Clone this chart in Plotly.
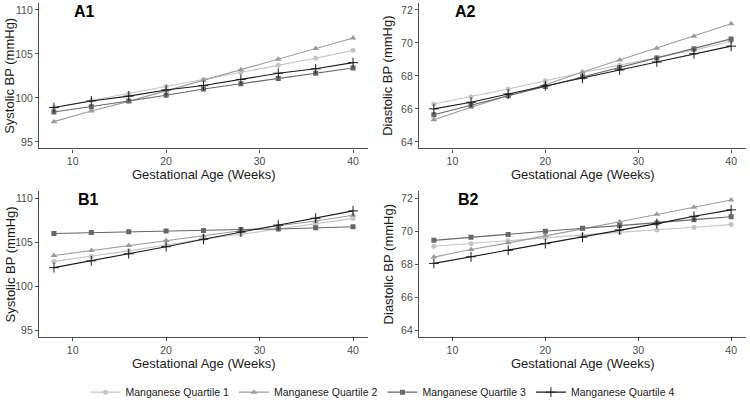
import plotly.graph_objects as go

weeks = [8, 12, 16, 20, 24, 28, 32, 36, 40]
series_names = ["Manganese Quartile 1", "Manganese Quartile 2",
                "Manganese Quartile 3", "Manganese Quartile 4"]

# Panel A1 (Systolic)
a1_q1 = [98.9, 99.7, 100.5, 101.3, 102.1, 102.9, 103.7, 104.5, 105.4]
a1_q2 = [97.3, 98.5, 99.6, 100.8, 102.0, 103.2, 104.4, 105.6, 106.8]
a1_q3 = [98.4, 99.0, 99.65, 100.3, 101.0, 101.6, 102.2, 102.8, 103.4]
a1_q4 = [98.9, 99.65, 100.2, 100.9, 101.4, 102.1, 102.8, 103.3, 104.0]
# Panel A2 (Diastolic)
a2_q1 = [66.3, 66.74, 67.2, 67.7, 68.2, 68.65, 69.1, 69.56, 70.1]
a2_q2 = [65.34, 66.1, 66.8, 67.46, 68.24, 68.96, 69.68, 70.4, 71.16]
a2_q3 = [65.64, 66.24, 66.8, 67.36, 67.94, 68.5, 69.08, 69.64, 70.24]
a2_q4 = [66.0, 66.4, 66.9, 67.4, 67.86, 68.36, 68.84, 69.34, 69.8]
# Panel B1 (Systolic)
b1_q1 = [102.84, 103.4, 104.03, 104.7, 105.37, 105.9, 106.5, 107.05, 107.7]
b1_q2 = [103.5, 104.07, 104.63, 105.2, 105.75, 106.27, 106.87, 107.4, 108.06]
b1_q3 = [106.0, 106.1, 106.2, 106.27, 106.34, 106.45, 106.5, 106.64, 106.75]
b1_q4 = [102.13, 102.9, 103.7, 104.5, 105.34, 106.16, 106.94, 107.72, 108.55]
# Panel B2 (Diastolic)
b2_q1 = [69.09, 69.25, 69.42, 69.6, 69.78, 69.92, 70.08, 70.24, 70.4]
b2_q2 = [68.44, 68.9, 69.3, 69.74, 70.14, 70.57, 71.03, 71.45, 71.88]
b2_q3 = [69.45, 69.64, 69.8, 70.0, 70.18, 70.34, 70.5, 70.7, 70.87]
b2_q4 = [68.06, 68.46, 68.85, 69.25, 69.64, 70.08, 70.46, 70.9, 71.29]

panel_labels = ["A1", "A2", "B1", "B2"]
y_titles = ["Systolic BP (mmHg)", "Diastolic BP (mmHg)",
            "Systolic BP (mmHg)", "Diastolic BP (mmHg)"]
x_title = "Gestational Age (Weeks)"
x_ticks = [10, 20, 30, 40]
sys_ticks = [95, 100, 105, 110]
dia_ticks = [64, 66, 68, 70, 72]

panels = [
    [a1_q1, a1_q2, a1_q3, a1_q4],
    [a2_q1, a2_q2, a2_q3, a2_q4],
    [b1_q1, b1_q2, b1_q3, b1_q4],
    [b2_q1, b2_q2, b2_q3, b2_q4],
]

colors = ["#C4C4C4", "#9C9C9C", "#676767", "#1A1A1A"]
symbols = ["circle", "triangle-up", "square", "cross-thin"]
msizes = [5, 6, 5, 7]

W, H = 750, 407
xdom = [[39 / W, 368 / W], [419 / W, 746 / W]]
ydom = [[1 - 150.7 / H, 1 - 3.3 / H], [1 - 342.4 / H, 1 - 194.3 / H]]

fig = go.Figure()
axis_col = "#4D4D4D"
FONT = "Liberation Sans, Arial, sans-serif"
tick_font = dict(family=FONT, size=10.5, color="#4D4D4D")
title_font = dict(family=FONT, size=13, color="#1A1A1A")

annotations = []
for p in range(4):
    row, col = divmod(p, 2)
    idx = "" if p == 0 else str(p + 1)
    xa, ya = "x" + idx, "y" + idx
    for s in range(4):
        fig.add_trace(go.Scatter(
            x=weeks, y=panels[p][s], mode="lines+markers",
            name=series_names[s], legendgroup=series_names[s],
            showlegend=(p == 0),
            line=dict(color=colors[s], width=1.1),
            marker=dict(symbol=symbols[s], size=msizes[s], color=colors[s],
                        line=dict(color=colors[s], width=1 if s == 3 else 0)),
            xaxis=xa, yaxis=ya,
        ))
    is_sys = (col == 0)
    yt = sys_ticks if is_sys else dia_ticks
    yr = [94.25, 110.75] if is_sys else [63.6, 72.4]
    fig.layout["xaxis" + idx] = dict(
        domain=xdom[col], range=[6.4, 41.6], tickvals=x_ticks,
        showline=True, linecolor=axis_col, linewidth=1.2,
        ticks="outside", ticklen=3, tickcolor=axis_col, tickwidth=1,
        showgrid=False, zeroline=False, tickfont=tick_font,
        anchor=ya, fixedrange=True, automargin=False,
    )
    fig.layout["yaxis" + idx] = dict(
        domain=ydom[row], range=yr, tickvals=yt,
        showline=True, linecolor=axis_col, linewidth=1.2,
        ticks="outside", ticklen=3, tickcolor=axis_col, tickwidth=1,
        showgrid=False, zeroline=False, tickfont=tick_font,
        anchor=xa, fixedrange=True, automargin=False,
    )
    xc = (xdom[col][0] + xdom[col][1]) / 2
    yc = (ydom[row][0] + ydom[row][1]) / 2
    annotations.append(dict(
        text=x_title, xref="paper", yref="paper", x=xc,
        y=ydom[row][0] - 26.5 / H, xanchor="center", yanchor="middle",
        showarrow=False, font=title_font))
    annotations.append(dict(
        text=y_titles[p], xref="paper", yref="paper",
        x=(10 if col == 0 else 388) / W, y=yc, textangle=-90,
        xanchor="center", yanchor="middle", showarrow=False, font=title_font))
    lx = [84, 465, 88, 468][p]
    ly = [12, 12, 202, 202][p]
    annotations.append(dict(
        text="<b>" + panel_labels[p] + "</b>", xref="paper", yref="paper",
        x=lx / W, y=1 - ly / H, xanchor="center", yanchor="middle",
        showarrow=False, font=dict(family=FONT, size=16, color="#000000")))

fig.update_layout(
    template="none",
    width=W, height=H,
    margin=dict(l=0, r=0, t=0, b=0, pad=0),
    paper_bgcolor="white", plot_bgcolor="white",
    annotations=annotations,
    showlegend=True,
    legend=dict(orientation="h", x=0.51, xanchor="center", y=1 - 398 / H,
                yanchor="middle", font=dict(family=FONT, size=10.5, color="#1A1A1A"),
                itemwidth=30, tracegroupgap=0, bgcolor="rgba(0,0,0,0)",
                borderwidth=0),
)

fig.write_html("out.html", config={"displayModeBar": False},
               post_script="document.body.style.margin='0px';document.body.style.padding='0px';")
